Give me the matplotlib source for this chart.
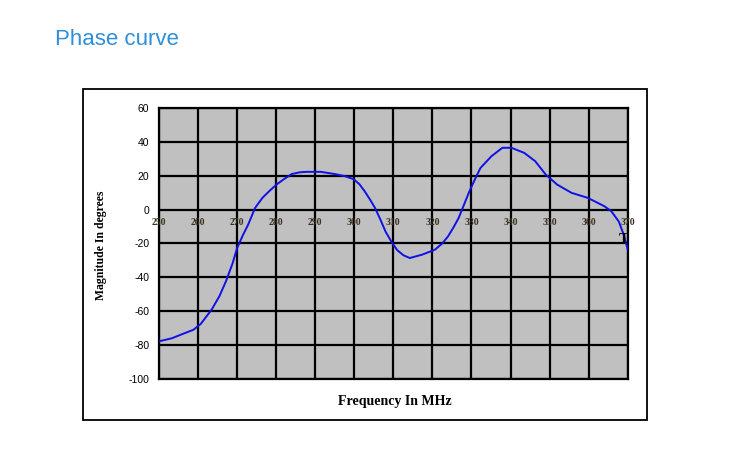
import matplotlib
matplotlib.use("Agg")
import matplotlib.pyplot as plt
from matplotlib.patches import Rectangle

freq = [250, 253.3, 256, 258.8, 260.7, 263.5, 265.5, 267.2, 268.8, 270, 271.5, 272.8,
        274.6, 276.5, 278.5, 280.2, 282, 284, 286, 287.7, 291.4, 295, 297.5, 299.8,
        301.3, 302.6, 304, 305.3, 306.7, 308, 309.5, 311, 312.6, 314.2, 317.4, 320.7,
        322.5, 324, 325.4, 326.7, 328.1, 329.5, 331, 332.3, 335.1, 337.9, 340.2, 343.5,
        346.3, 349, 351.9, 355.6, 359.8, 364, 365.8, 367.7, 369, 370]
phase = [-77.8, -76, -73.5, -71, -67.5, -59, -51, -42, -32, -22.7, -15, -9,
         1, 7, 11.5, 15, 18, 21, 22, 22.3, 22.3, 21, 19.8, 18,
         15, 11, 6, 1, -6, -13, -19, -24, -27, -28.6, -26.6, -23.6,
         -20, -15.8, -10.5, -5, 3, 11, 18.5, 24.6, 31.5, 36.5, 36.5, 33.5,
         28.6, 20.7, 14.8, 9.9, 6.9, 2, -1, -7, -15, -23.6]

xticks = list(range(250, 371, 10))
yticks = list(range(-100, 61, 20))

fig = plt.figure(figsize=(7.5, 4.5), dpi=100)
fig.patch.set_facecolor("white")

# outer frame
fig.patches.append(Rectangle((0.1107, 0.0667), 0.752, 0.7353, transform=fig.transFigure,
                             fill=False, edgecolor="black", linewidth=1.3))

fig.text(0.073, 0.913, "Phase curve", color="#2f8fd8", fontsize=16,
         family="Liberation Sans", ha="left", va="center")

ax = fig.add_axes([0.212, 0.158, 0.625, 0.602])
ax.set_facecolor("#c0c0c0")
ax.set_xlim(250, 370)
ax.set_ylim(-100, 60)
ax.set_xticks(xticks)
ax.set_yticks(yticks)
ax.grid(True, color="black", linewidth=1.6)
ax.set_axisbelow(True)
for s in ax.spines.values():
    s.set_color("black")
    s.set_linewidth(1.6)

ax.plot(freq, phase, color="#1010e8", linewidth=1.4, zorder=3)

ax.tick_params(axis="y", length=0, pad=7, labelsize=7.5, labelcolor="black")
ax.set_yticklabels([str(v) for v in yticks], family="Liberation Sans")
ax.tick_params(axis="x", length=0, labelbottom=False)
for v in xticks:
    ax.text(v, -5, str(v), ha="center", va="top", fontsize=7, color="#3a3020",
            fontweight="bold", family="Liberation Serif", zorder=4)

ax.text(369, -14, "T", ha="center", va="top", fontsize=11, color="black",
        fontweight="bold", family="Liberation Serif", zorder=4)

fig.text(0.135, 0.455, "Magnitude In degrees", rotation=90, ha="center", va="center",
         fontsize=8.5, fontweight="bold", family="Liberation Serif")
fig.text(0.527, 0.107, "Frequency In MHz", ha="center", va="center",
         fontsize=10, fontweight="bold", family="Liberation Serif")

fig.savefig("out.png", dpi=100)
